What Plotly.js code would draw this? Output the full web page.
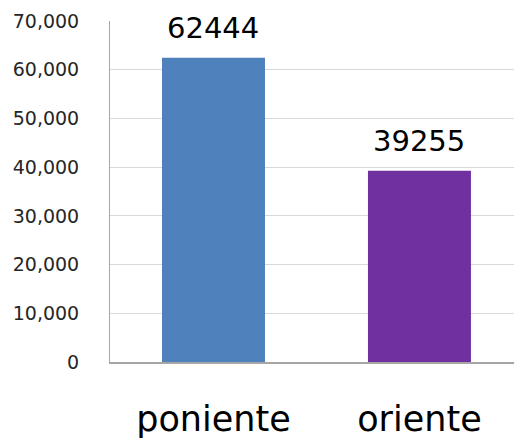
<!DOCTYPE html>
<html>
<head>
<meta charset="utf-8">
<script src="https://cdn.plot.ly/plotly-3.0.1.min.js"></script>
<style>html,body{margin:0;padding:0;background:#fff;}#chart{width:514px;height:442px;}</style>
</head>
<body>
<div id="chart"></div>
<script>
const categories = ["poniente", "oriente"];
const values = [62444, 39255];
const barColors = ["#4F81BD", "#7030A0"];
const tickValues = [0, 10000, 20000, 30000, 40000, 50000, 60000, 70000];
const tickLabels = ["0", "10,000", "20,000", "30,000", "40,000", "50,000", "60,000", "70,000"];

const trace = {
  type: "bar",
  x: categories,
  y: values,
  marker: { color: barColors, line: { width: 0 } },
  hoverinfo: "none"
};

const annotations = categories.map((c, i) => ({
  x: c, y: values[i], xref: "x", yref: "y",
  text: String(values[i]),
  showarrow: false, yanchor: "bottom", yshift: 11,
  font: { family: "DejaVu Sans", size: 29, color: "#000000" }
}));

const layout = {
  width: 514, height: 442,
  margin: { l: 110, r: 0, t: 21, b: 80, pad: 0 },
  paper_bgcolor: "#ffffff", plot_bgcolor: "#ffffff",
  showlegend: false,
  bargap: 0.5,
  xaxis: {
    type: "category",
    range: [-0.5024, 1.459],
    showgrid: false,
    showline: true, linecolor: "#a6a6a6", linewidth: 2,
    ticks: "", ticklabelstandoff: 25,
    tickfont: { family: "DejaVu Sans", size: 35, color: "#000000" },
    zeroline: false, fixedrange: true
  },
  yaxis: {
    range: [0, 70000],
    tickmode: "array", tickvals: tickValues, ticktext: tickLabels,
    showgrid: true, gridcolor: "#d9d9d9", gridwidth: 1,
    showline: true, linecolor: "#a6a6a6", linewidth: 1,
    zeroline: false, ticks: "", ticklabelstandoff: 26,
    tickfont: { family: "DejaVu Sans", size: 19, color: "#262626" },
    fixedrange: true
  },
  annotations: annotations
};

Plotly.newPlot("chart", [trace], layout, { staticPlot: true, displayModeBar: false });
</script>
</body>
</html>
